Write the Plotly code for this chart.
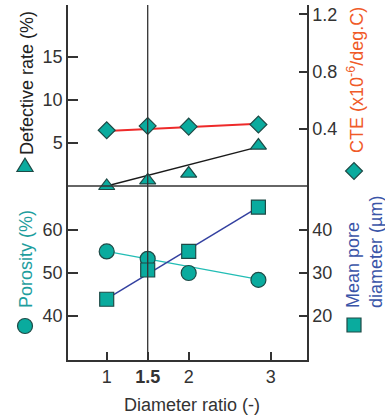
import plotly.graph_objects as go

# ---- data ----
ratio = [1, 1.5, 2, 2.85]
defective = [0.0, 0.65, 1.45, 4.7]
defective_fit_x = [1, 2.85]
defective_fit = [0.0, 4.55]
cte = [0.39, 0.42, 0.415, 0.43]
cte_fit_x = [1, 2.85]
cte_fit = [0.385, 0.435]
porosity = [55.0, 53.3, 50.0, 48.4]
porosity_fit_x = [1, 2.85]
porosity_fit = [55.0, 48.5]
pore = [23.9, 30.7, 35.0, 45.3]
pore_fit_x = [1, 2.85]
pore_fit = [24.0, 45.3]

x_tickvals = [1, 1.5, 2, 3]
x_ticktext = ["1", "<b>1.5</b>", "2", "3"]
def_ticks = [5, 10, 15]
cte_ticks = [0.4, 0.8, 1.2]
cte_ticktext = ["0.4", "0.8", "1.2"]
por_ticks = [40, 50, 60]
pore_ticks = [20, 30, 40]

TEAL = "#0aab9e"
EDGE = "#1e4a46"
AX = "#333333"
FONT = "Liberation Sans, Arial, sans-serif"

W, H = 385, 416
L, R, T, B = 68, 78, 5, 56
PW, PH = W - L - R, H - T - B
split = (360 - 186) / PH

def px2paper(px, py):
    return (px - L) / PW, (H - B - py) / PH

mk = dict(color=TEAL, line=dict(color=EDGE, width=1.2))

fig = go.Figure()
# fit lines
fig.add_trace(go.Scatter(x=defective_fit_x, y=defective_fit, mode="lines", xaxis="x", yaxis="y2",
                         line=dict(color="#1a1a1a", width=1.5), cliponaxis=False))
fig.add_trace(go.Scatter(x=cte_fit_x, y=cte_fit, mode="lines", xaxis="x", yaxis="y3",
                         line=dict(color="#ee2a2a", width=2), cliponaxis=False))
fig.add_trace(go.Scatter(x=porosity_fit_x, y=porosity_fit, mode="lines", xaxis="x", yaxis="y",
                         line=dict(color="#22bdb5", width=1.3), cliponaxis=False))
fig.add_trace(go.Scatter(x=pore_fit_x, y=pore_fit, mode="lines", xaxis="x", yaxis="y4",
                         line=dict(color="#3340a0", width=1.5), cliponaxis=False))
# markers
fig.add_trace(go.Scatter(x=ratio, y=defective, mode="markers", xaxis="x", yaxis="y2",
                         marker=dict(symbol="triangle-up", size=14, **mk), cliponaxis=False))
fig.add_trace(go.Scatter(x=ratio, y=cte, mode="markers", xaxis="x", yaxis="y3",
                         marker=dict(symbol="diamond", size=13, **mk), cliponaxis=False))
fig.add_trace(go.Scatter(x=ratio, y=porosity, mode="markers", xaxis="x", yaxis="y",
                         marker=dict(symbol="circle", size=15, **mk), cliponaxis=False))
fig.add_trace(go.Scatter(x=ratio, y=pore, mode="markers", xaxis="x", yaxis="y4",
                         marker=dict(symbol="square", size=14, **mk), cliponaxis=False))

tickfont = dict(family=FONT, size=18, color=AX)
common_y = dict(showgrid=False, zeroline=False, showline=True, linecolor=AX, linewidth=1.5,
                ticks="inside", tickcolor=AX, tickwidth=1.5, tickfont=tickfont)

fig.update_layout(
    width=W, height=H, margin=dict(l=L, r=R, t=T, b=B),
    paper_bgcolor="white", plot_bgcolor="rgba(0,0,0,0)", showlegend=False,
    font=dict(family=FONT, size=18, color=AX),
    xaxis=dict(range=[1 - 38.7 / 82, 1 + (307 - 106.7) / 82], tickvals=x_tickvals, ticktext=x_ticktext,
               showgrid=False, zeroline=False, showline=True, linecolor=AX, linewidth=1.5,
               ticks="inside", ticklen=8, tickcolor=AX, tickwidth=1.5, tickfont=tickfont,
               anchor="y"),
    yaxis=dict(domain=[0, split], range=[29.8, 70.2], tickvals=por_ticks, ticklen=10,
               side="left", anchor="x", **common_y),
    yaxis4=dict(overlaying="y", range=[9.8, 50.2], tickvals=pore_ticks, ticklen=8,
                side="right", anchor="x", **common_y),
    yaxis2=dict(domain=[split, 1], range=[0, 181 / 8.6], tickvals=def_ticks, ticklen=10,
                side="left", anchor="x", **common_y),
    yaxis3=dict(overlaying="y2", range=[0, 181 * 0.4 / 57.2], tickvals=cte_ticks,
                ticktext=cte_ticktext, ticklen=8, side="right", anchor="x", **common_y),
)

# middle divider and vertical line at ratio 1.5
fig.add_shape(type="line", xref="paper", yref="paper", x0=0, x1=1, y0=split, y1=split,
              line=dict(color=AX, width=1.5), layer="above")
fig.add_shape(type="line", xref="x", yref="paper", x0=1.5, x1=1.5, y0=0, y1=1,
              line=dict(color=AX, width=1.3), layer="above")

# legend key glyphs next to the axis titles (pixel-sized shapes)
def key(kind, px, py, path=None, half=7.0):
    ax, ay = px2paper(px, py)
    d = dict(xref="paper", yref="paper", xsizemode="pixel", ysizemode="pixel",
             xanchor=ax, yanchor=ay, fillcolor=TEAL, line=dict(color=EDGE, width=1.2),
             layer="above")
    if kind == "path":
        fig.add_shape(type="path", path=path, **d)
    else:
        fig.add_shape(type=kind, x0=-half, x1=half, y0=-half, y1=half, **d)

key("path", 25, 168, path="M-8.08,-3.5 L8.08,-3.5 L0,9.9 Z")
key("path", 354, 171, path="M8.45,0 L0,8.45 L-8.45,0 L0,-8.45 Z")
key("circle", 25, 326, half=7.5)
key("rect", 354, 325, half=7.0)

def title(text, px, py, color, align="center"):
    x, y = px2paper(px, py)
    fig.add_annotation(text=text, x=x, y=y, xref="paper", yref="paper", textangle=-90,
                       showarrow=False, align=align, xanchor="center", yanchor="middle",
                       font=dict(family=FONT, size=18, color=color))

title("Defective rate (%)", 27, 83, "#222222")
title("CTE (x10<sup>-6</sup>/deg.C)", 355, 80, "#f05a28")
title("Porosity (%)", 26, 259, "#1e9e9e")
title("Mean pore<br>diameter (µm)", 364, 252, "#3a55a8", align="left")

x, y = px2paper(192, 405)
fig.add_annotation(text="Diameter ratio (-)", x=x, y=y, xref="paper", yref="paper",
                   showarrow=False, xanchor="center", yanchor="middle",
                   font=dict(family=FONT, size=18, color=AX))

fig.write_html("out.html")
